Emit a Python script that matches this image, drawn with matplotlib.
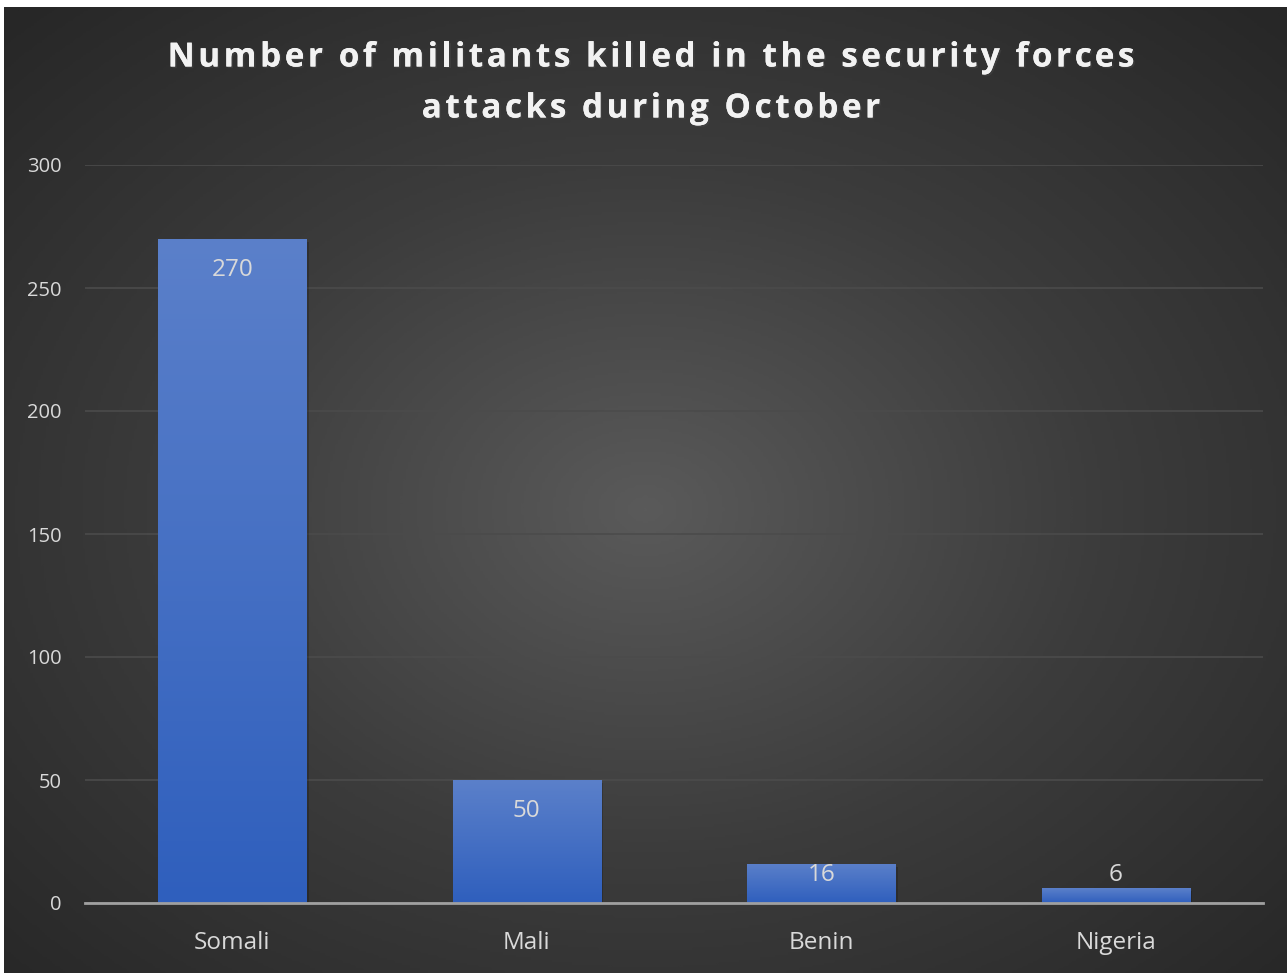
import matplotlib
matplotlib.use("Agg")
import matplotlib.pyplot as plt
import matplotlib.patheffects as pe
from matplotlib.font_manager import FontProperties
import numpy as np
from matplotlib.colors import LinearSegmentedColormap

countries = ["Somali", "Mali", "Benin", "Nigeria"]
killed = [270, 50, 16, 6]
y_ticks = [0, 50, 100, 150, 200, 250, 300]
title_lines = ["Number of militants killed in the security forces",
               "attacks during October"]

plt.rcParams["font.family"] = ["Open Sans", "DejaVu Sans"]
text_color = "#d9d9d9"

W, H = 1287, 973
fig = plt.figure(figsize=(W / 100, H / 100), dpi=100, facecolor="white")

# radial dark background
bg = fig.add_axes([4 / W, 0, 1 - 4 / W, 1 - 7 / H])
bg.set_axis_off()
yy, xx = np.mgrid[0:1:400j, 0:1:500j]
r = np.sqrt(((xx - 0.5) / 0.75) ** 2 + ((yy - 0.52) / 0.75) ** 2)
r = np.clip(r / 0.95, 0, 1)
bg_cmap = LinearSegmentedColormap.from_list("bg", ["#5a5a5a", "#3c3c3c", "#272727"])
bg.imshow(r, cmap=bg_cmap, aspect="auto", extent=[0, 1, 0, 1], vmin=0, vmax=1)

ax = fig.add_axes([85 / W, (H - 903) / H, 1178 / W, 738 / H])
ax.set_facecolor("none")
x = np.arange(len(countries))
bars = ax.bar(x, killed, 0.503, color="none", zorder=3)

bar_cmap = LinearSegmentedColormap.from_list("bar", ["#2f5fbd", "#5b80ca"])
grad = np.linspace(0, 1, 256).reshape(-1, 1)
for b in bars:
    x0, w, h = b.get_x(), b.get_width(), b.get_height()
    # soft shadow
    ax.bar(x0 + w / 2 + 0.008, h - 0.5, w, bottom=-0.8, color="black", alpha=0.18, zorder=2)
    im = ax.imshow(grad, cmap=bar_cmap, origin="lower", aspect="auto",
                   extent=[x0, x0 + w, 0, h], zorder=3)
    im.set_clip_path(b)

for i, v in enumerate(killed):
    ax.text(i, max(v - 12.6, 11.4), str(v), ha="center", va="center",
            fontsize=17.5, color=text_color, zorder=5)

ax.set_xlim(-0.5, 3.5)
ax.set_ylim(0, 300)
ax.set_yticks(y_ticks)
ax.set_xticks(x, countries)
ax.yaxis.grid(True, color="#4b4b4b", linewidth=1.2, zorder=0)
ax.set_axisbelow(True)
for s in ["top", "right", "left"]:
    ax.spines[s].set_visible(False)
ax.spines["bottom"].set_color("#a0a0a0")
ax.spines["bottom"].set_linewidth(2)
ax.spines["bottom"].set_zorder(4)
ax.tick_params(axis="y", length=0, colors=text_color, labelsize=14.5, pad=17)
ax.tick_params(axis="x", length=0, colors=text_color, labelsize=17.5, pad=20)

# title with letter spacing, drawn char by char
fp = FontProperties(family="Open Sans", weight="bold", size=24)
renderer = fig.canvas.get_renderer()
spacing = 3.5
ref_w = renderer.get_text_width_height_descent("n", fp, ismath=False)[0]
shadow = [pe.withSimplePatchShadow(offset=(1.2, -1.2), alpha=0.45), pe.Normal()]
for line, yc in zip(title_lines, [58, 109]):
    pos = []
    for k in range(len(line) + 1):
        wk = renderer.get_text_width_height_descent(line[:k] + "n", fp, ismath=False)[0] - ref_w
        pos.append(wk + k * spacing)
    total = pos[-1] - spacing
    start = 651 - total / 2
    for k, ch in enumerate(line):
        if ch == " ":
            continue
        fig.text((start + pos[k]) / W, 1 - yc / H, ch, ha="left", va="center",
                 fontproperties=fp, color="#f2f2f2", path_effects=shadow)

fig.savefig("out.png", dpi=100, facecolor=fig.get_facecolor())
